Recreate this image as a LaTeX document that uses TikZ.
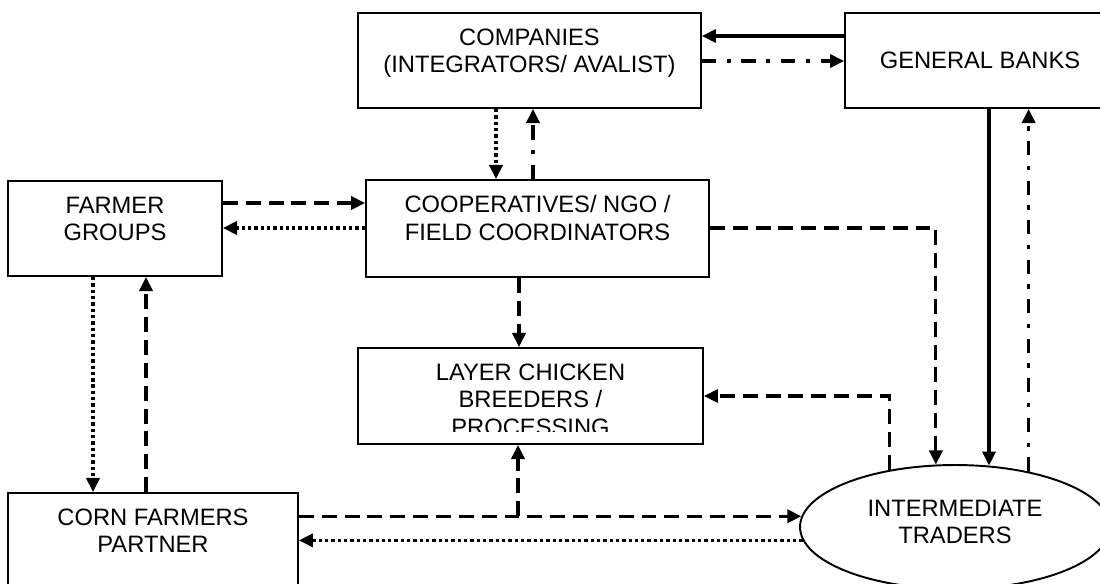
\documentclass[tikz,border=0pt]{standalone}
\usepackage{fontspec}
\setmainfont{Liberation Sans}
\usetikzlibrary{arrows.meta,calc,shapes.geometric}
\definecolor{ChainInk}{HTML}{000000}
\definecolor{ChainPaper}{HTML}{FFFFFF}
\newcommand{\chainfont}{\fontsize{13.5}{15.6}\selectfont}
\tikzset{
  every node/.style={font=\chainfont, text=ChainInk},
  actor/.style={draw=ChainInk, line width=1.1pt, fill=ChainPaper, inner sep=0pt, minimum height=1.9cm, align=center},
  actortext/.style={anchor=north, align=center, inner sep=0pt, yshift=-9.3pt},
  market/.style={ellipse, draw=ChainInk, line width=1.1pt, fill=ChainPaper, inner sep=0pt, align=center},
  solidflow/.style={-{Triangle[length=8pt,width=7.5pt]}, draw=ChainInk, line width=1.8pt},
  dashflow/.style={solidflow, dash pattern=on 8.5pt off 4.5pt},
  dotflow/.style={solidflow, dash pattern=on 1.9pt off 1.7pt},
  dashdotflow/.style={solidflow, dash pattern=on 8pt off 6pt on 2.5pt off 6pt},
}
\begin{document}
\begin{tikzpicture}[x=0.02cm,y=-0.02cm]
  % Frame in reference pixels (y grows downwards)
  \clip (0,0) rectangle (1100,583);
  \fill[ChainPaper] (0,0) rectangle (1100,583);
  % Actors
  \node[actor, minimum width=6.86cm, label={[actortext]north:{COMPANIES\\(INTEGRATORS/ AVALIST)}}] (companies) at (529.5,60.5) {};
  \node[actor, minimum width=5.4cm] (banks) at (980,60.5) {GENERAL BANKS};
  \node[actor, minimum width=4.28cm, label={[actortext]north:{FARMER\\GROUPS}}] (farmer) at (115,228.5) {};
  \node[actor, minimum width=6.86cm, minimum height=1.94cm, label={[actortext]north:{COOPERATIVES/ NGO /\\FIELD COORDINATORS}}] (coop) at (537.5,228.5) {};
  \node[actor, minimum width=6.9cm, minimum height=1.92cm, label={[actortext]north:{LAYER CHICKEN\\BREEDERS /\\PROCESSING}}] (layer) at (530.5,396) {};
  \node[actor, minimum width=5.8cm, label={[actortext]north:{CORN FARMERS\\PARTNER}}] (corn) at (153,540.5) {};
  \node[market, minimum width=6.2cm, minimum height=2.48cm, label={[align=center, inner sep=0pt, yshift=2.8pt]center:{INTERMEDIATE\\TRADERS}}] (traders) at (955,527) {};
  % Text of the layer box runs past its inner margin
  \fill[ChainPaper] ($(layer.south west)+(2,-1.5)$) rectangle ($(layer.south east)+(-2,-12.5)$);
  % Companies and banks
  \draw[solidflow] (banks.west |- 0,36) -- (companies.east |- 0,36);
  \draw[dashdotflow] (companies.east |- 0,61) -- (banks.west |- 0,61);
  \draw[dotflow] (companies.south -| 496,0) -- (coop.north -| 496,0);
  \draw[dashdotflow] (coop.north -| 533,0) -- (companies.south -| 533,0);
  % Farmer groups and cooperatives
  \draw[dashflow] (farmer.east |- 0,203) -- (coop.west |- 0,203);
  \draw[dotflow] (coop.west |- 0,228) -- (farmer.east |- 0,228);
  \draw[dashflow] (coop.south -| 519,0) -- (layer.north -| 519,0);
  % Traders
  \draw[dashflow] (coop.east |- 0,228) -| (traders.107);
  \draw[dashflow] (traders.139) |- (layer.east |- 0,396);
  \draw[solidflow] (banks.south -| traders.61) -- (traders.61);
  \draw[dashdotflow] (traders.37) -- (banks.south -| traders.37);
  % Corn farmers
  \draw[dotflow] (farmer.south -| 93,0) -- (corn.north -| 93,0);
  \draw[dashflow] (corn.north -| 146,0) -- (farmer.south -| 146,0);
  \coordinate (fork) at (traders.176 -| 518,0);
  \draw[dashflow] (corn.east |- traders.176) -- (traders.176);
  \draw[dotflow] (traders.185) -- (corn.east |- traders.185);
  \draw[dashflow] (fork) -- (layer.south -| fork);
\end{tikzpicture}
\end{document}
